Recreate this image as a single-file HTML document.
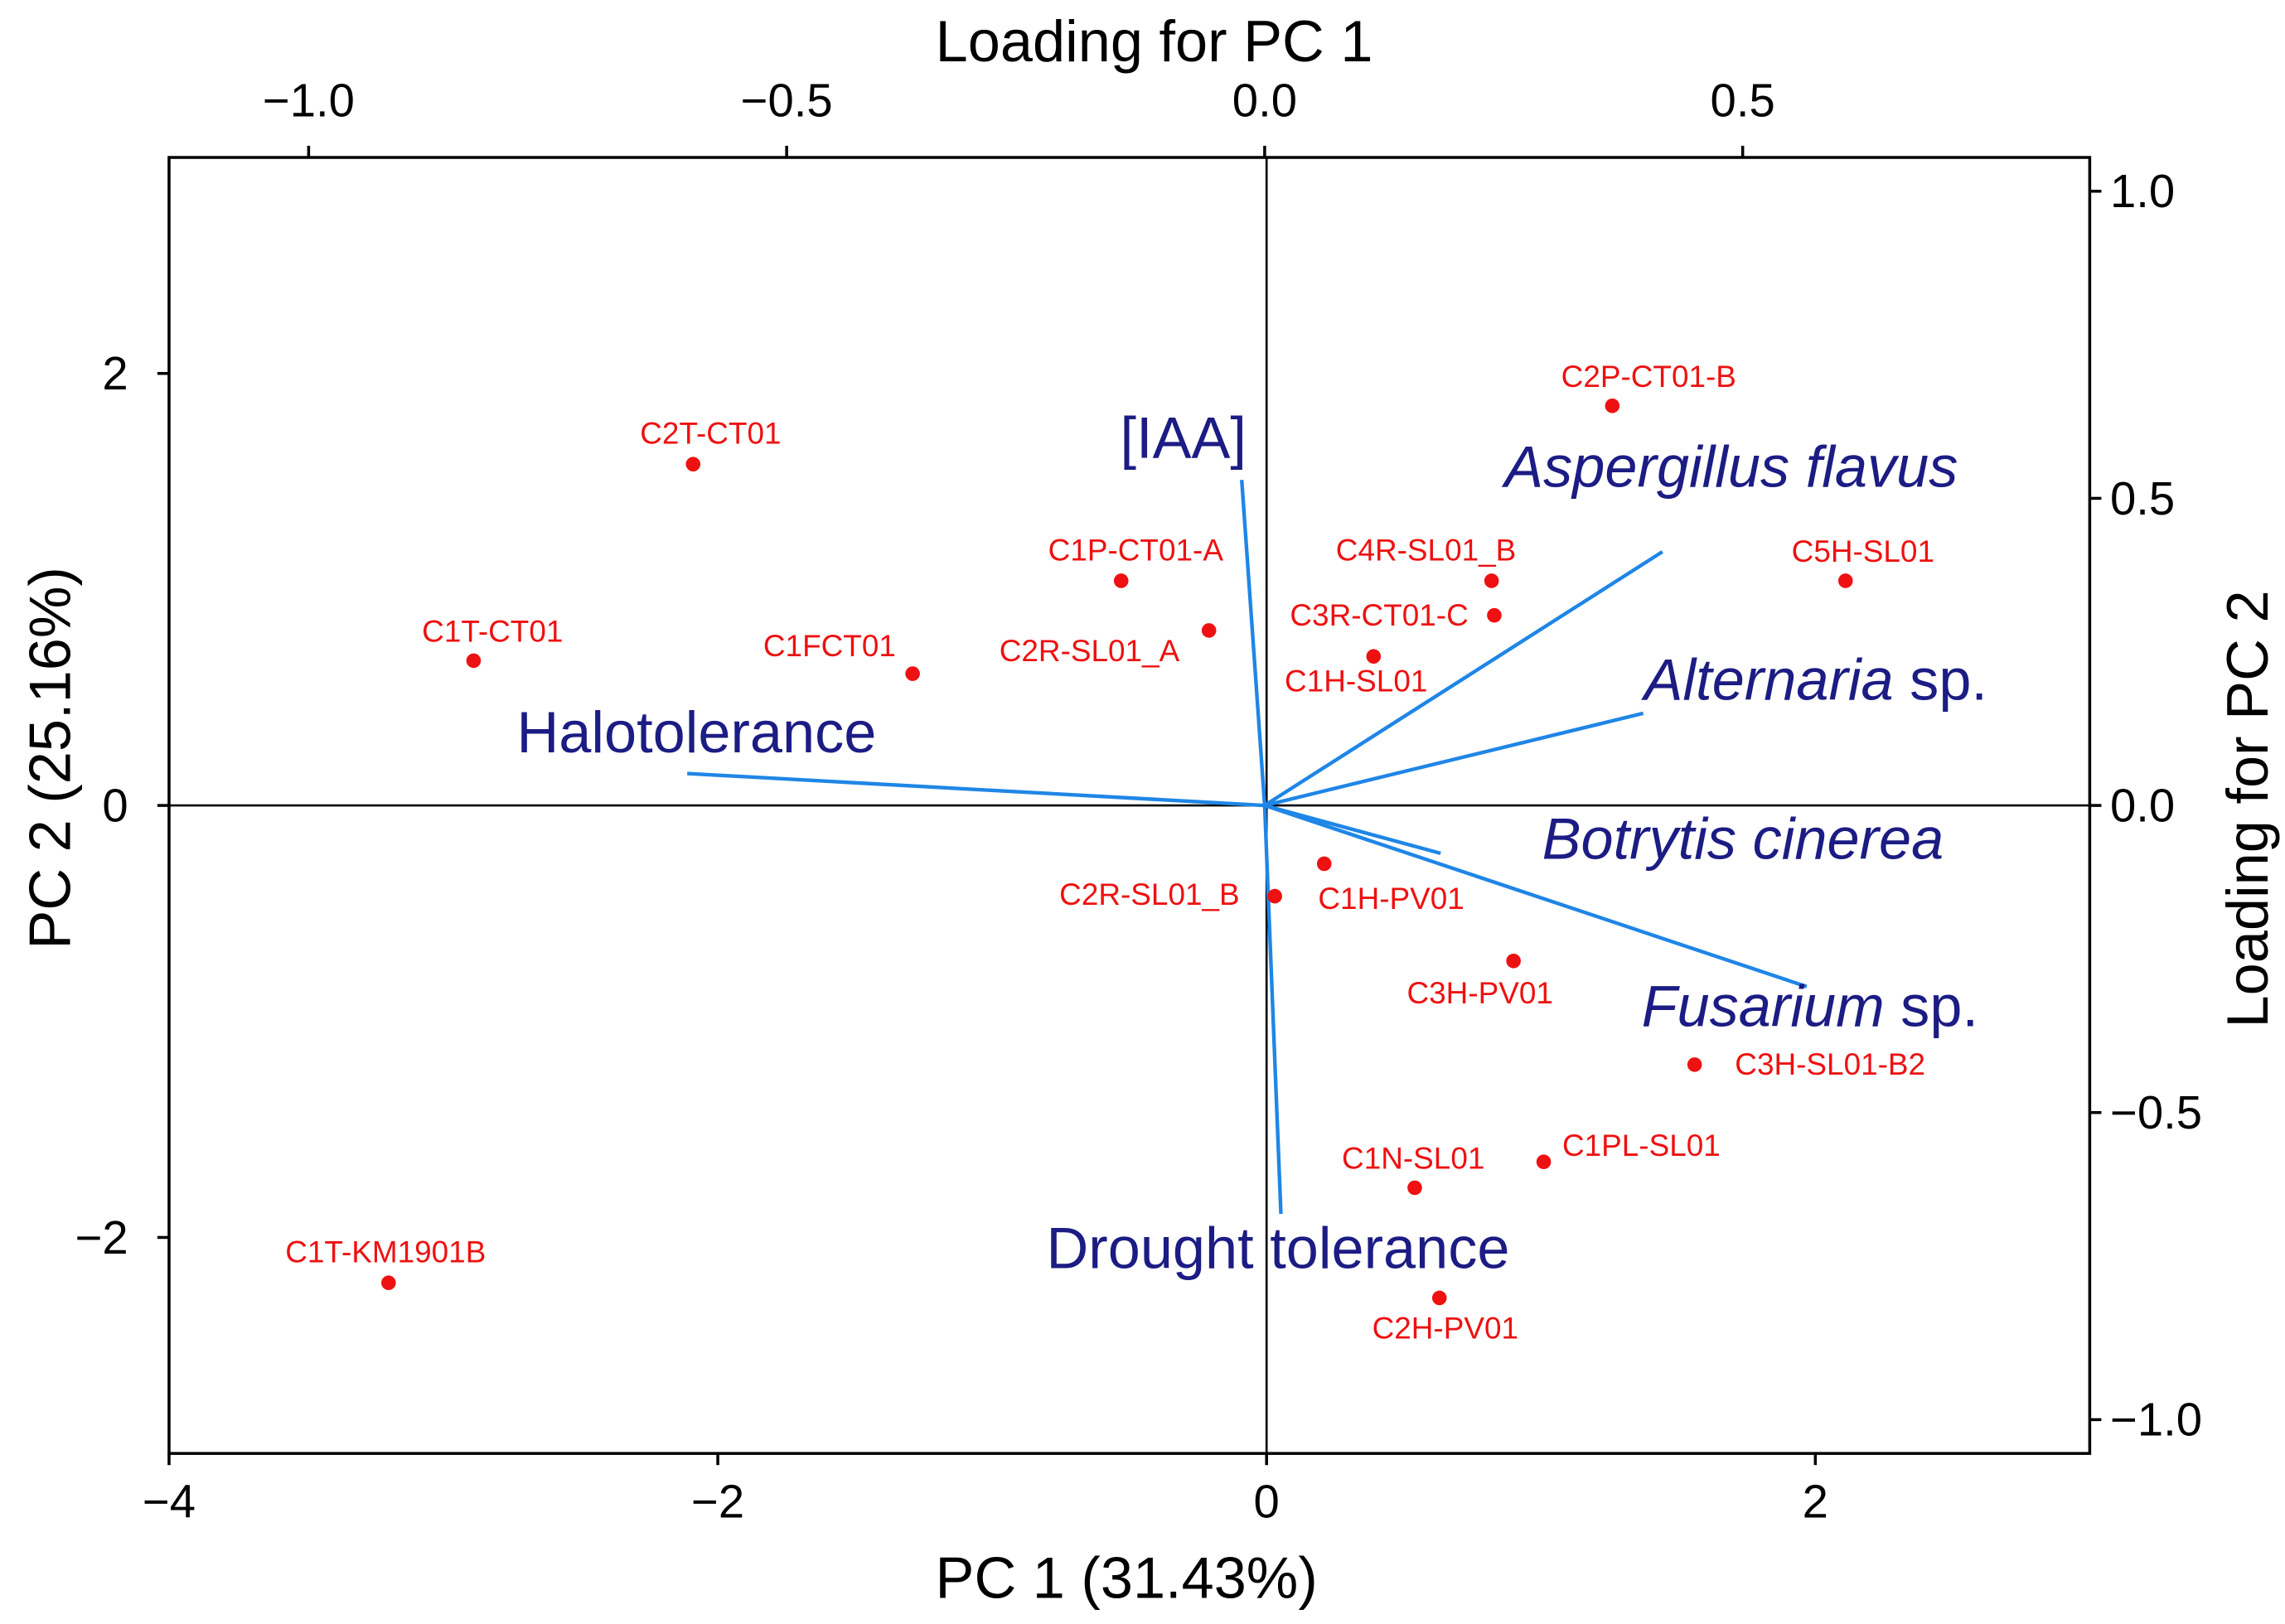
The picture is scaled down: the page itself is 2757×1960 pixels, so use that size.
<!DOCTYPE html>
<html><head><meta charset="utf-8"><style>
html,body{margin:0;padding:0;background:#fff;}
svg{display:block;font-family:"Liberation Sans",Arial,sans-serif;}
</style></head><body>
<svg id="chart" width="2757" height="1960" viewBox="0 0 1568 1114" preserveAspectRatio="none" xmlns="http://www.w3.org/2000/svg"></svg>
<script>
// Scores data
const pointNames = ["C2P-CT01-B","C2T-CT01","C1P-CT01-A","C5H-SL01","C4R-SL01_B","C3R-CT01-C","C2R-SL01_A","C1H-SL01","C1T-CT01","C1FCT01","C1H-PV01","C2R-SL01_B","C3H-PV01","C3H-SL01-B2","C1PL-SL01","C1N-SL01","C2H-PV01","C1T-KM1901B"];
const pc1Scores = [1.26,-2.09,-0.53,2.11,0.82,0.83,-0.21,0.39,-2.89,-1.29,0.21,0.03,0.90,1.56,1.01,0.54,0.63,-3.20];
const pc2Scores = [1.85,1.58,1.04,1.04,1.04,0.88,0.81,0.69,0.67,0.61,-0.27,-0.42,-0.72,-1.20,-1.65,-1.77,-2.28,-2.21];
// Loadings data
const loadingNames = ["IAA","Aspergillus flavus","Alternaria sp.","Botrytis cinerea","Fusarium sp.","Drought tolerance","Halotolerance"];
const loading1 = [-0.024,0.416,0.396,0.184,0.567,0.017,-0.604];
const loading2 = [0.53,0.413,0.15,-0.078,-0.295,-0.665,0.052];
// Ticks
const xTicks = [-4,-2,0,2];
const yTicks = [-2,0,2];
const topTicks = [-1.0,-0.5,0.0,0.5];
const rightTicks = [1.0,0.5,0.0,-0.5,-1.0];

const svg = document.getElementById('chart');
const NS = "http://www.w3.org/2000/svg";
const L=116,R=1434,T=108,B=997;
const xs = v => L + (v+4)/7*(R-L);
const ys = v => B - (v+3)/6*(B-T);
const lx = v => L + (v+1.146)/(0.863+1.146)*(R-L);
const ly = v => B - (v+1.055)/2.11*(B-T);
const fmt = v => (v<0?"\u2212":"")+Math.abs(v);
const fmt1 = v => (v<0?"\u2212":"")+Math.abs(v).toFixed(1);

function mk(tag, attrs, text){
  const e=document.createElementNS(NS,tag);
  for(const k in attrs) e.setAttribute(k,attrs[k]);
  if(text!==undefined) e.textContent=text;
  svg.appendChild(e); return e;
}
let e;
e=mk('rect',{x:L,y:T,width:R-L,height:B-T,fill:'none',stroke:'#000','stroke-width':2});


e=mk('line',{x1:xs(0),x2:xs(0),y1:T,y2:B,stroke:'#000','stroke-width':1.5});


e=mk('line',{x1:L,x2:R,y1:ys(0),y2:ys(0),stroke:'#000','stroke-width':1.5});



xTicks.forEach(v=>{
  mk('line',{x1:xs(v),x2:xs(v),y1:B,y2:B+8,stroke:'#000','stroke-width':2});
  e=mk('text',{x:xs(v),y:1041,'font-size':32,'text-anchor':'middle'},fmt(v));
  
  
});
yTicks.forEach(v=>{
  mk('line',{x1:L-8,x2:L,y1:ys(v),y2:ys(v),stroke:'#000','stroke-width':2});
  e=mk('text',{x:88,y:ys(v)+11,'font-size':32,'text-anchor':'end'},fmt(v));
  
  
});
topTicks.forEach(v=>{
  mk('line',{x1:lx(v),x2:lx(v),y1:T-8,y2:T,stroke:'#000','stroke-width':2});
  e=mk('text',{x:lx(v),y:80,'font-size':32,'text-anchor':'middle'},fmt1(v));
  
  
});
rightTicks.forEach(v=>{
  mk('line',{x1:R,x2:R+8,y1:ly(v),y2:ly(v),stroke:'#000','stroke-width':2});
  e=mk('text',{x:1448,y:ly(v)+11,'font-size':32,'text-anchor':'start'},fmt1(v));
  
  
});

e=mk('text',{x:792,y:42,'font-size':40,'text-anchor':'middle'},'Loading for PC 1');


e=mk('text',{x:773,y:1096,'font-size':40,'text-anchor':'middle'},'PC 1 (31.43%)');


e=mk('text',{x:0,y:0,'font-size':40,'text-anchor':'middle',transform:'translate(48,520) rotate(-90)'},'PC 2 (25.16%)');


e=mk('text',{x:0,y:0,'font-size':40,'text-anchor':'middle',transform:'translate(1556,555) rotate(-90)'},'Loading for PC 2');



// vectors
loadingNames.forEach((n,i)=>{
  e=mk('line',{x1:lx(0),y1:ly(0),x2:lx(loading1[i]),y2:ly(loading2[i]),stroke:'#1f86e6','stroke-width':2.5});
  
  
});
const vecLabelPos = [[812,300],[1188,320],[1246,466],[1196,575],[1242,690],[877,856],[478,502]];
const vecLabelHtml = ['[IAA]','<tspan font-style="italic">Aspergillus flavus</tspan>','<tspan font-style="italic">Alternaria</tspan> sp.','<tspan font-style="italic">Botrytis cinerea</tspan>','<tspan font-style="italic">Fusarium</tspan> sp.','Drought tolerance','Halotolerance'];
loadingNames.forEach((n,i)=>{
  e=mk('text',{x:vecLabelPos[i][0],y:vecLabelPos[i][1]+14,'font-size':40,'text-anchor':'middle',fill:'#1c1c84'});
  e.innerHTML=vecLabelHtml[i];
  
  
});

// points
const labelOff = [[25,-20],[12,-21],[10,-21],[12,-20],[-45,-21],[-79,0],[-82,14],[-12,17],[13,-20],[-57,-19],[46,24],[-86,-1],[-23,22],[93,0],[67,-11],[-1,-20],[4,21],[-2,-21]];
pointNames.forEach((n,i)=>{
  const cx=xs(pc1Scores[i]), cy=ys(pc2Scores[i]);
  e=mk('circle',{cx:cx,cy:cy,r:5,fill:'#ee1111'});
  
  
  e=mk('text',{x:cx+labelOff[i][0],y:cy+labelOff[i][1]+7,'font-size':21,'text-anchor':'middle',fill:'#ee1111'},n);
  
  
});
</script>
</body></html>
